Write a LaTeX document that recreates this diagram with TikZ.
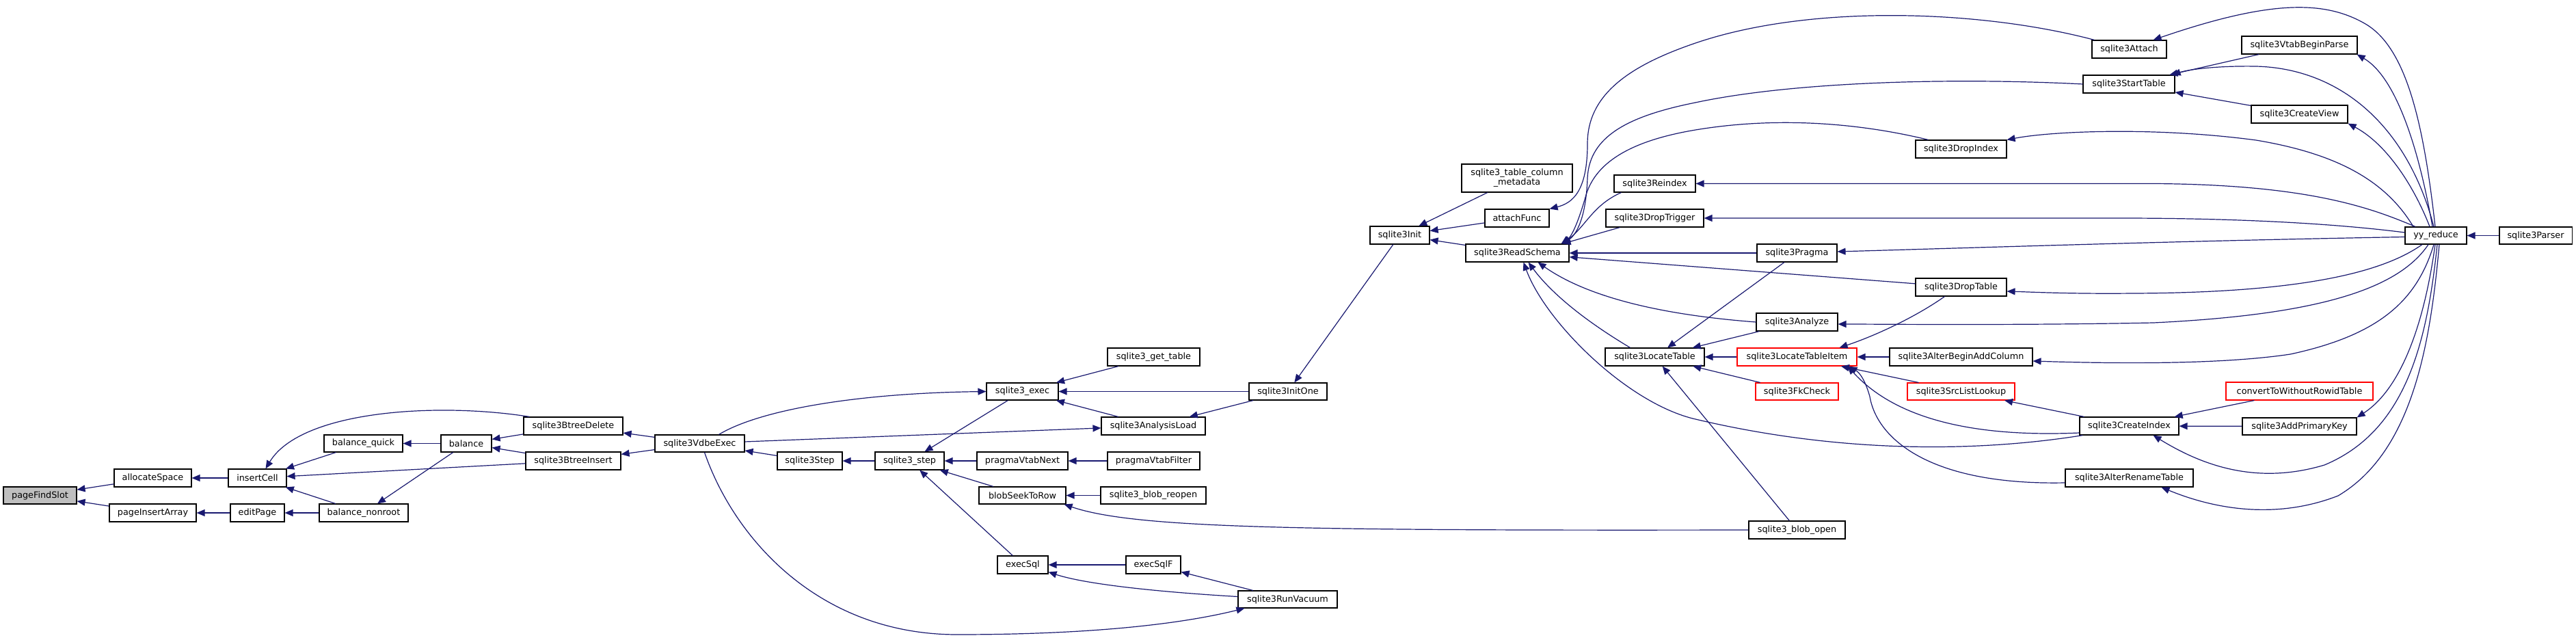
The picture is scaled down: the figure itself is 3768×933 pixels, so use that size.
\documentclass[tikz,border=0pt]{standalone}
\usepackage{fontspec}
\setmainfont{DejaVu Sans}
\usetikzlibrary{arrows.meta}
\definecolor{edgeblue}{HTML}{191970}
\definecolor{nodegray}{HTML}{BFBFBF}
\definecolor{nodered}{HTML}{FF0000}
\tikzset{
  fn/.style={draw=black, line width=1.1pt, fill=white, inner sep=0pt, text=black,
    font=\fontsize{12.8}{14}\selectfont},
  rednode/.style={fn, draw=nodered},
  graynode/.style={fn, fill=nodegray},
  edge/.style={draw=edgeblue, line width=1.2pt, -{Triangle[length=12pt,width=10pt]}}
}
\newcommand\nd[7][fn]{\node[#1, minimum width=#5pt, minimum height=#6pt] (#2) at (#3,#4) {#7};}
\begin{document}
\begin{tikzpicture}[x=1pt,y=-1pt]
\fill[white] (0,0) rectangle (3768,933);
\useasboundingbox (0,0) rectangle (3768,933);
% nodes
\nd[graynode]{pageFindSlot}{58.5}{724.5}{107}{25}{pageFindSlot}
\nd{allocateSpace}{223.5}{699}{113}{26}{allocateSpace}
\nd{pageInsertArray}{223.5}{750}{127}{26}{pageInsertArray}
\nd{insertCell}{376.5}{699}{85}{26}{insertCell}
\nd{editPage}{376.5}{750}{79}{26}{editPage}
\nd{balanceQuick}{531.5}{648.5}{115}{25}{balance\_quick}
\nd{balanceNonroot}{532}{750}{130}{26}{balance\_nonroot}
\nd{balance}{682}{648.5}{74}{25}{balance}
\nd{btreeDelete}{838.5}{623}{145}{26}{sqlite3BtreeDelete}
\nd{btreeInsert}{838.5}{674}{139}{26}{sqlite3BtreeInsert}
\nd{vdbeExec}{1023.5}{648.5}{131}{25}{sqlite3VdbeExec}
\nd{step}{1184.5}{674}{95}{26}{sqlite3Step}
\nd{stepApi}{1330.5}{674}{101}{26}{sqlite3\_step}
\nd{execApi}{1495.5}{572.5}{105}{25}{sqlite3\_exec}
\nd{getTable}{1687.5}{522}{135}{26}{sqlite3\_get\_table}
\nd{analysisLoad}{1687}{623}{152}{26}{sqlite3AnalysisLoad}
\nd{initOne}{1884}{572.5}{114}{25}{sqlite3InitOne}
\nd{vtabNext}{1495.5}{674}{133}{26}{pragmaVtabNext}
\nd{vtabFilter}{1687.5}{674}{135}{26}{pragmaVtabFilter}
\nd{blobSeek}{1495.5}{724.5}{127}{25}{blobSeekToRow}
\nd{blobReopen}{1687}{724.5}{154}{25}{sqlite3\_blob\_reopen}
\nd{execSql}{1496}{826}{74}{26}{execSql}
\nd{execSqlF}{1687}{826}{80}{26}{execSqlF}
\nd{runVacuum}{1883.5}{876.5}{145}{25}{sqlite3RunVacuum}
\nd{init}{2047.5}{344}{87}{26}{sqlite3Init}
\nd[fn,align=center]{tableMeta}{2219}{260.5}{162}{41}{sqlite3\_table\_column\\\_metadata}
\nd{attachFunc}{2219}{319}{94}{26}{attachFunc}
\nd{readSchema}{2219.5}{370}{151}{26}{sqlite3ReadSchema}
\nd{reindex}{2420.5}{268.5}{119}{25}{sqlite3Reindex}
\nd{dropTrigger}{2420.5}{319}{143}{26}{sqlite3DropTrigger}
\nd{locateTable}{2420.5}{522}{145}{26}{sqlite3LocateTable}
\nd{pragma}{2628.5}{370}{117}{26}{sqlite3Pragma}
\nd{analyze}{2628.5}{471}{119}{26}{sqlite3Analyze}
\nd[rednode]{locateItem}{2628.5}{522}{175}{26}{sqlite3LocateTableItem}
\nd[rednode]{fkCheck}{2628.5}{572.5}{121}{25}{sqlite3FkCheck}
\nd{blobOpen}{2628.5}{775}{141}{26}{sqlite3\_blob\_open}
\nd{dropIndex}{2868.5}{218}{133}{26}{sqlite3DropIndex}
\nd{dropTable}{2868.5}{420}{133}{26}{sqlite3DropTable}
\nd{alterAddCol}{2868.5}{522}{209}{26}{sqlite3AlterBeginAddColumn}
\nd[rednode]{srcListLookup}{2868.5}{572.5}{157}{25}{sqlite3SrcListLookup}
\nd{attach}{3114.5}{72}{109}{26}{sqlite3Attach}
\nd{startTable}{3114}{123}{134}{26}{sqlite3StartTable}
\nd{createIndex}{3114.5}{623}{145}{26}{sqlite3CreateIndex}
\nd{alterRename}{3114.5}{699}{187}{26}{sqlite3AlterRenameTable}
\nd{vtabBeginParse}{3363.5}{66}{169}{26}{sqlite3VtabBeginParse}
\nd{createView}{3363.5}{167}{141}{26}{sqlite3CreateView}
\nd[rednode]{convertTo}{3363.5}{572}{215}{26}{convertToWithoutRowidTable}
\nd{addPK}{3363.5}{623.5}{167}{25}{sqlite3AddPrimaryKey}
\nd{yyReduce}{3563}{344.5}{90}{25}{yy\_reduce}
\nd{parser}{3709}{344.5}{106}{25}{sqlite3Parser}
% straight edges (caller -- callee)
\draw[edge] (allocateSpace) -- (pageFindSlot);
\draw[edge] (pageInsertArray) -- (pageFindSlot);
\draw[edge] (insertCell) -- (allocateSpace);
\draw[edge] (editPage) -- (pageInsertArray);
\draw[edge] (balanceQuick) -- (insertCell);
\draw[edge] (balanceNonroot) -- (insertCell);
\draw[edge] (btreeInsert) -- (insertCell);
\draw[edge] (balanceNonroot) -- (editPage);
\draw[edge] (balance) -- (balanceQuick);
\draw[edge] (balance) -- (balanceNonroot);
\draw[edge] (btreeDelete) -- (balance);
\draw[edge] (btreeInsert) -- (balance);
\draw[edge] (vdbeExec) -- (btreeDelete);
\draw[edge] (vdbeExec) -- (btreeInsert);
\draw[edge] (step) -- (vdbeExec);
\draw[edge] (stepApi) -- (step);
\draw[edge] (vtabNext) -- (stepApi);
\draw[edge] (blobSeek) -- (stepApi);
\draw[edge] (execApi) -- (stepApi);
\draw[edge] (execSql) -- (stepApi);
\draw[edge] (vtabFilter) -- (vtabNext);
\draw[edge] (blobReopen) -- (blobSeek);
\draw[edge] (execSqlF) -- (execSql);
\draw[edge] (runVacuum) -- (execSqlF);
\draw[edge] (vdbeExec) -- (analysisLoad);
\draw[edge] (getTable) -- (execApi);
\draw[edge] (initOne) -- (execApi);
\draw[edge] (analysisLoad) -- (execApi);
\draw[edge] (initOne) -- (analysisLoad);
\draw[edge] (init) -- (initOne);
\draw[edge] (tableMeta) -- (init);
\draw[edge] (attachFunc) -- (init);
\draw[edge] (readSchema) -- (init);
\draw[edge] (pragma) -- (readSchema);
\draw[edge] (dropTable) -- (readSchema);
\draw[edge] (pragma) -- (locateTable);
\draw[edge] (analyze) -- (locateTable);
\draw[edge] (locateItem) -- (locateTable);
\draw[edge] (fkCheck) -- (locateTable);
\draw[edge] (blobOpen) -- (locateTable);
\draw[edge] (alterAddCol) -- (locateItem);
\draw[edge] (srcListLookup) -- (locateItem);
\draw[edge] (createIndex) -- (srcListLookup);
\draw[edge] (convertTo) -- (createIndex);
\draw[edge] (addPK) -- (createIndex);
\draw[edge] (vtabBeginParse) -- (startTable);
\draw[edge] (createView) -- (startTable);
\draw[edge] (parser) -- (yyReduce);
% curved edges
\draw[edge] ([xshift=9pt]btreeDelete.north west) .. controls (640,588) and (440,600) .. ([xshift=12pt]insertCell.north);
\draw[edge] ([xshift=7pt]vdbeExec.south) .. controls (1075,790) and (1200,928) .. (1400,928) .. controls (1600,928) and (1730,912) .. ([xshift=10pt]runVacuum.south west);
\draw[edge] ([xshift=28pt]vdbeExec.north) .. controls (1110,600) and (1250,575) .. (execApi.west);
\draw[edge] (blobOpen.west) .. controls (1900,776) and (1660,773) .. ([xshift=-3pt]blobSeek.south east);
\draw[edge] ([yshift=4pt]runVacuum.west) .. controls (1700,866) and (1590,855) .. ([yshift=3pt]execSql.south east);
\draw[edge] ([xshift=4pt]attach.north west) .. controls (2900,15) and (2650,5) .. (2480,63) .. controls (2380,97) and (2322,140) .. (2322,210) .. controls (2322,280) and (2300,297) .. (attachFunc.north east);
\draw[edge] ([xshift=-1pt]yyReduce.north) .. controls (3545,180) and (3520,70) .. (3460,35) .. controls (3400,0) and (3320,0) .. ([xshift=-20pt]attach.north east);
\draw[edge] (startTable.west) .. controls (2850,113) and (2620,120) .. (2480,150) .. controls (2380,170) and (2325,200) .. (2322,260) .. controls (2320,320) and (2305,345) .. ([xshift=-12pt]readSchema.north east);
\draw[edge] ([xshift=19pt]dropIndex.north west) .. controls (2720,180) and (2600,170) .. (2480,190) .. controls (2390,205) and (2335,235) .. (2320,285) .. controls (2310,320) and (2300,345) .. ([xshift=-12pt]readSchema.north east);
\draw[edge] ([xshift=11pt]reindex.south west) .. controls (2330,300) and (2320,330) .. ([xshift=-10pt]readSchema.north east);
\draw[edge] ([xshift=21pt]dropTrigger.south west) -- ([xshift=-10pt]readSchema.north east);
\draw[edge] (analyze.west) .. controls (2450,462) and (2330,440) .. ([xshift=30pt]readSchema.south);
\draw[edge] ([xshift=-36pt]locateTable.north) .. controls (2320,470) and (2270,430) .. ([xshift=16pt]readSchema.south);
\draw[edge] ([xshift=5pt]createIndex.south west) .. controls (2900,660) and (2700,665) .. (2480,613) .. controls (2380,590) and (2260,470) .. ([xshift=9pt]readSchema.south);
\draw[edge] ([xshift=-24pt]dropTable.south) .. controls (2800,465) and (2740,492) .. ([xshift=-26pt]locateItem.north east);
\draw[edge] ([yshift=-10pt]createIndex.west) .. controls (2880,640) and (2770,610) .. ([xshift=-14pt]locateItem.south east);
\draw[edge] ([yshift=-7pt]alterRename.west) .. controls (2820,710) and (2745,640) .. (2735,580) .. controls (2728,555) and (2720,545) .. ([xshift=-12pt]locateItem.south east);
\draw[edge] ([xshift=-3pt]yyReduce.north) .. controls (3520,180) and (3420,100) .. (3300,97) .. controls (3240,96) and (3200,102) .. ([xshift=-4pt]startTable.north east);
\draw[edge] ([xshift=-5pt]yyReduce.north) .. controls (3535,200) and (3500,110) .. ([xshift=-1pt]vtabBeginParse.south east);
\draw[edge] ([xshift=-9pt]yyReduce.north) .. controls (3530,270) and (3490,210) .. (createView.south east);
\draw[edge] ([xshift=-33pt]yyReduce.north) .. controls (3490,265) and (3420,225) .. (3300,205) .. controls (3150,185) and (3000,192) .. (dropIndex.north east);
\draw[edge] ([xshift=-30pt]yyReduce.north) .. controls (3470,305) and (3380,270) .. (3150,268.5) -- (reindex.east);
\draw[edge] ([yshift=4.5pt]yyReduce.west) .. controls (3400,325) and (3250,319) .. (3100,319) -- (dropTrigger.east);
\draw[edge] ([yshift=-2pt]yyReduce.west) .. controls (3200,352) and (2900,362) .. ([yshift=2pt]pragma.east);
\draw[edge] ([xshift=-20pt]yyReduce.south) .. controls (3490,395) and (3380,428) .. (3120,429) .. controls (3030,430) and (2970,427) .. ([yshift=-6pt]dropTable.east);
\draw[edge] ([xshift=-11pt]yyReduce.south) .. controls (3510,420) and (3400,460) .. (3150,472) .. controls (2950,476) and (2750,474) .. ([yshift=-3pt]analyze.east);
\draw[edge] ([xshift=-3pt]yyReduce.south) .. controls (3535,440) and (3480,490) .. (3350,518) .. controls (3250,533) and (3100,532) .. ([yshift=-6pt]alterAddCol.east);
\draw[edge] ([xshift=-1pt]yyReduce.south) .. controls (3545,480) and (3510,570) .. (addPK.north east);
\draw[edge] ([xshift=2pt]yyReduce.south) .. controls (3550,500) and (3520,630) .. (3400,680) .. controls (3300,710) and (3220,680) .. ([xshift=35pt]createIndex.south);
\draw[edge] ([xshift=5pt]yyReduce.south) .. controls (3555,500) and (3530,660) .. (3420,725) .. controls (3330,760) and (3240,745) .. ([xshift=47pt]alterRename.south);
\end{tikzpicture}
\end{document}
